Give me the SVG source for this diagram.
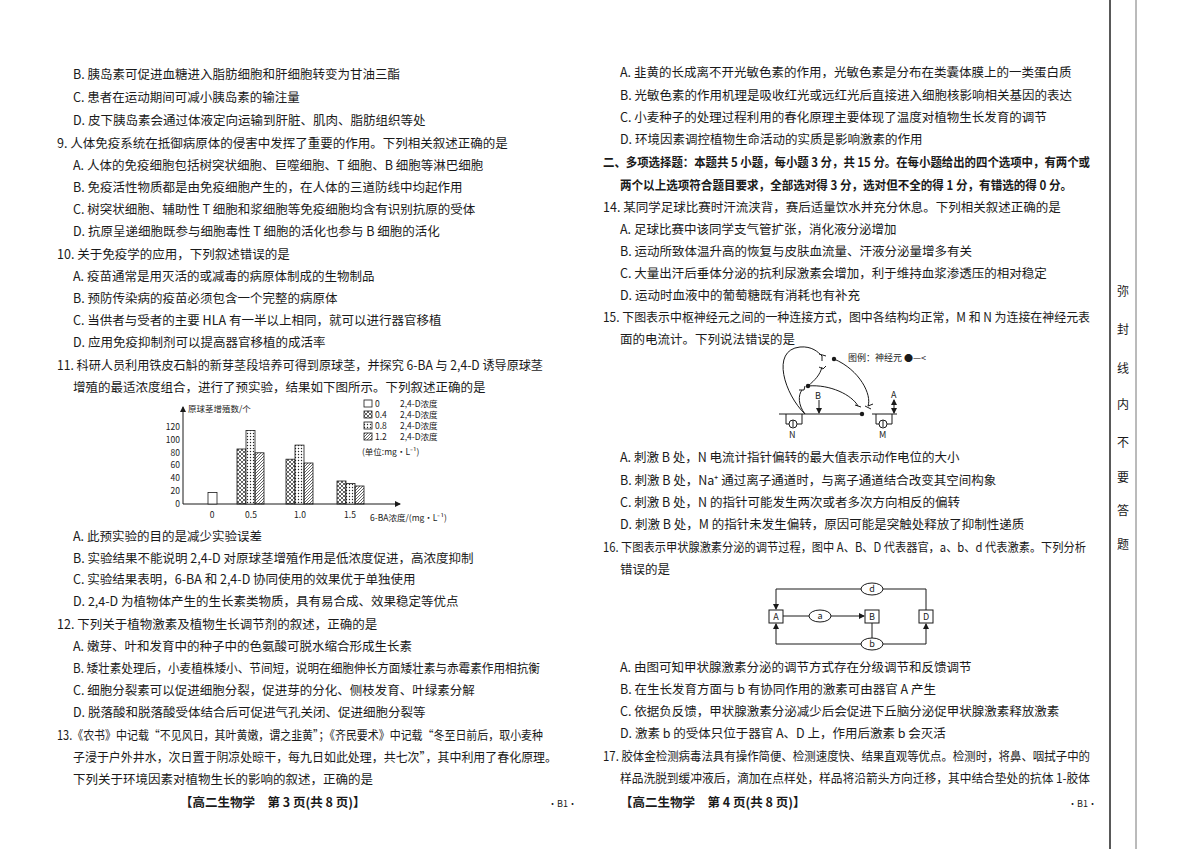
<svg xmlns="http://www.w3.org/2000/svg" width="1200" height="849" viewBox="0 0 1200 849">
<style>
text{font-family:"Noto Sans CJK SC","Liberation Serif",serif;font-size:12.5px;fill:#1a1a1a}
.b{font-weight:bold}
.s{font-size:9px}
text.t{font-size:8.5px}
text.m{font-size:12px}
.ln{stroke:#1a1a1a;stroke-width:1;fill:none}
.bar{stroke:#1a1a1a;stroke-width:0.8}
</style>
<defs>
<marker id="ar" markerWidth="6" markerHeight="6" refX="5" refY="3" orient="auto"><path d="M0,0L6,3L0,6z" fill="#1a1a1a"/></marker>
<pattern id="px" width="4" height="4" patternUnits="userSpaceOnUse"><path d="M0,0L4,4M4,0L0,4" stroke="#222" stroke-width="0.7"/></pattern>
<pattern id="pd" width="3" height="3" patternUnits="userSpaceOnUse"><rect width="3" height="3" fill="#fff"/><circle cx="1.5" cy="1.5" r="0.7" fill="#222"/></pattern>
<pattern id="ph" width="3" height="3" patternUnits="userSpaceOnUse"><path d="M0,3L3,0" stroke="#222" stroke-width="0.7"/></pattern>
</defs>
<rect width="1200" height="849" fill="#fff"/>
<g id="left">
<text x="73" y="79">B. 胰岛素可促进血糖进入脂肪细胞和肝细胞转变为甘油三酯</text>
<text x="73" y="102">C. 患者在运动期间可减小胰岛素的输注量</text>
<text x="73" y="125">D. 皮下胰岛素会通过体液定向运输到肝脏、肌肉、脂肪组织等处</text>
<text x="57" y="148">9. 人体免疫系统在抵御病原体的侵害中发挥了重要的作用。下列相关叙述正确的是</text>
<text x="73" y="170">A. 人体的免疫细胞包括树突状细胞、巨噬细胞、T 细胞、B 细胞等淋巴细胞</text>
<text x="73" y="192">B. 免疫活性物质都是由免疫细胞产生的，在人体的三道防线中均起作用</text>
<text x="73" y="214">C. 树突状细胞、辅助性 T 细胞和浆细胞等免疫细胞均含有识别抗原的受体</text>
<text x="73" y="236">D. 抗原呈递细胞既参与细胞毒性 T 细胞的活化也参与 B 细胞的活化</text>
<text x="57" y="259">10. 关于免疫学的应用，下列叙述错误的是</text>
<text x="73" y="281">A. 疫苗通常是用灭活的或减毒的病原体制成的生物制品</text>
<text x="73" y="303">B. 预防传染病的疫苗必须包含一个完整的病原体</text>
<text x="73" y="325">C. 当供者与受者的主要 HLA 有一半以上相同，就可以进行器官移植</text>
<text x="73" y="347">D. 应用免疫抑制剂可以提高器官移植的成活率</text>
<text x="57" y="370" textLength="486" lengthAdjust="spacingAndGlyphs">11. 科研人员利用铁皮石斛的新芽茎段培养可得到原球茎，并探究 6-BA 与 2,4-D 诱导原球茎</text>
<text x="73" y="392">增殖的最适浓度组合，进行了预实验，结果如下图所示。下列叙述正确的是</text>
<text x="73" y="541">A. 此预实验的目的是减少实验误差</text>
<text x="73" y="563">B. 实验结果不能说明 2,4-D 对原球茎增殖作用是低浓度促进，高浓度抑制</text>
<text x="73" y="584">C. 实验结果表明，6-BA 和 2,4-D 协同使用的效果优于单独使用</text>
<text x="73" y="606">D. 2,4-D 为植物体产生的生长素类物质，具有易合成、效果稳定等优点</text>
<text x="57" y="629">12. 下列关于植物激素及植物生长调节剂的叙述，正确的是</text>
<text x="73" y="651">A. 嫩芽、叶和发育中的种子中的色氨酸可脱水缩合形成生长素</text>
<text x="73" y="673" textLength="467" lengthAdjust="spacingAndGlyphs">B. 矮壮素处理后，小麦植株矮小、节间短，说明在细胞伸长方面矮壮素与赤霉素作用相抗衡</text>
<text x="73" y="695">C. 细胞分裂素可以促进细胞分裂，促进芽的分化、侧枝发育、叶绿素分解</text>
<text x="73" y="717">D. 脱落酸和脱落酸受体结合后可促进气孔关闭、促进细胞分裂等</text>
<text x="57" y="740" textLength="486" lengthAdjust="spacingAndGlyphs">13.《农书》中记载“不见风日，其叶黄嫩，谓之韭黄”；《齐民要术》中记载“冬至日前后，取小麦种</text>
<text x="73" y="762" textLength="484" lengthAdjust="spacingAndGlyphs">子浸于户外井水，次日置于阴凉处晾干，每九日如此处理，共七次”，其中利用了春化原理。</text>
<text x="73" y="784">下列关于环境因素对植物生长的影响的叙述，正确的是</text>
<text x="180" y="807" class="b">【高二生物学　第 3 页(共 8 页)】</text>
<text x="548" y="807" class="s">·B1·</text>
</g>
<g id="chart">
<line class="ln" x1="183" y1="504" x2="183" y2="407" marker-end="url(#ar)"/>
<line class="ln" x1="183" y1="504" x2="400" y2="504" marker-end="url(#ar)"/>
<g text-anchor="end">
<text class="t" x="180" y="507">0</text><text class="t" x="180" y="494">20</text><text class="t" x="180" y="481">40</text><text class="t" x="180" y="468">60</text><text class="t" x="180" y="456">80</text><text class="t" x="180" y="443">100</text><text class="t" x="180" y="430">120</text>
</g>
<text x="188" y="412" class="t">原球茎增殖数/个</text>
<rect class="bar" x="208" y="492.5" width="9" height="11.5" fill="#fff"/>
<rect class="bar" x="237" y="449" width="9" height="55" fill="url(#px)"/>
<rect class="bar" x="246" y="430.4" width="9" height="73.6" fill="url(#pd)"/>
<rect class="bar" x="255" y="452.8" width="9" height="51.2" fill="url(#ph)"/>
<rect class="bar" x="286" y="459.2" width="9" height="44.8" fill="url(#px)"/>
<rect class="bar" x="295" y="445.1" width="9" height="58.9" fill="url(#pd)"/>
<rect class="bar" x="304" y="463" width="9" height="41" fill="url(#ph)"/>
<rect class="bar" x="337" y="481" width="9" height="23" fill="url(#px)"/>
<rect class="bar" x="346" y="483.5" width="9" height="20.5" fill="url(#pd)"/>
<rect class="bar" x="355" y="486" width="9" height="18" fill="url(#ph)"/>
<g text-anchor="middle"><text class="t" x="212" y="518">0</text><text class="t" x="251" y="518">0.5</text><text class="t" x="300" y="518">1.0</text><text class="t" x="350" y="518">1.5</text></g>
<text x="370" y="521" class="t">6-BA浓度/(mg·L⁻¹)</text>
<rect class="bar" x="364" y="400" width="8" height="7" fill="#fff"/>
<rect class="bar" x="364" y="411" width="8" height="7" fill="url(#px)"/>
<rect class="bar" x="364" y="422" width="8" height="7" fill="url(#pd)"/>
<rect class="bar" x="364" y="433" width="8" height="7" fill="url(#ph)"/>
<text class="t" x="375" y="407">0</text><text class="t" x="375" y="418">0.4</text><text class="t" x="375" y="429">0.8</text><text class="t" x="375" y="440">1.2</text>
<text class="t" x="400" y="407">2,4-D浓度</text><text class="t" x="400" y="418">2,4-D浓度</text><text class="t" x="400" y="429">2,4-D浓度</text><text class="t" x="400" y="440">2,4-D浓度</text>
<text class="t" x="362" y="455">(单位:mg·L⁻¹)</text>
</g>
<g id="right">
<text x="620" y="77">A. 韭黄的长成离不开光敏色素的作用，光敏色素是分布在类囊体膜上的一类蛋白质</text>
<text x="620" y="100">B. 光敏色素的作用机理是吸收红光或远红光后直接进入细胞核影响相关基因的表达</text>
<text x="620" y="122">C. 小麦种子的处理过程利用的春化原理主要体现了温度对植物生长发育的调节</text>
<text x="620" y="144">D. 环境因素调控植物生命活动的实质是影响激素的作用</text>
<text x="603" y="167" class="b" textLength="487" lengthAdjust="spacingAndGlyphs">二、多项选择题：本题共 5 小题，每小题 3 分，共 15 分。在每小题给出的四个选项中，有两个或</text>
<text x="620" y="190" class="b" textLength="452" lengthAdjust="spacingAndGlyphs">两个以上选项符合题目要求，全部选对得 3 分，选对但不全的得 1 分，有错选的得 0 分。</text>
<text x="603" y="212">14. 某同学足球比赛时汗流浃背，赛后适量饮水并充分休息。下列相关叙述正确的是</text>
<text x="620" y="234">A. 足球比赛中该同学支气管扩张，消化液分泌增加</text>
<text x="620" y="256">B. 运动所致体温升高的恢复与皮肤血流量、汗液分泌量增多有关</text>
<text x="620" y="278">C. 大量出汗后垂体分泌的抗利尿激素会增加，利于维持血浆渗透压的相对稳定</text>
<text x="620" y="300">D. 运动时血液中的葡萄糖既有消耗也有补充</text>
<text x="603" y="322" textLength="487" lengthAdjust="spacingAndGlyphs">15. 下图表示中枢神经元之间的一种连接方式，图中各结构均正常，M 和 N 为连接在神经元表</text>
<text x="620" y="344">面的电流计。下列说法错误的是</text>
<text x="620" y="462">A. 刺激 B 处，N 电流计指针偏转的最大值表示动作电位的大小</text>
<text x="620" y="485">B. 刺激 B 处，Na⁺ 通过离子通道时，与离子通道结合改变其空间构象</text>
<text x="620" y="507">C. 刺激 B 处，N 的指针可能发生两次或者多次方向相反的偏转</text>
<text x="620" y="529">D. 刺激 B 处，M 的指针未发生偏转，原因可能是突触处释放了抑制性递质</text>
<text x="603" y="552" textLength="483" lengthAdjust="spacingAndGlyphs">16. 下图表示甲状腺激素分泌的调节过程，图中 A、B、D 代表器官，a、b、d 代表激素。下列分析</text>
<text x="620" y="574">错误的是</text>
<text x="620" y="672">A. 由图可知甲状腺激素分泌的调节方式存在分级调节和反馈调节</text>
<text x="620" y="694">B. 在生长发育方面与 b 有协同作用的激素可由器官 A 产生</text>
<text x="620" y="716">C. 依据负反馈，甲状腺激素分泌减少后会促进下丘脑分泌促甲状腺激素释放激素</text>
<text x="620" y="738">D. 激素 b 的受体只位于器官 A、D 上，作用后激素 b 会灭活</text>
<text x="603" y="761" textLength="487" lengthAdjust="spacingAndGlyphs">17. 胶体金检测病毒法具有操作简便、检测速度快、结果直观等优点。检测时，将鼻、咽拭子中的</text>
<text x="620" y="783" textLength="470" lengthAdjust="spacingAndGlyphs">样品洗脱到缓冲液后，滴加在点样处，样品将沿箭头方向迁移，其中结合垫处的抗体 1-胶体</text>
<text x="620" y="807" class="b">【高二生物学　第 4 页(共 8 页)】</text>
<text x="1068" y="807" class="s">·B1·</text>
</g>
<g id="neuron">
<line class="ln" x1="779" y1="414" x2="862" y2="414"/>
<line class="ln" x1="872" y1="414" x2="897" y2="414"/>
<circle cx="862" cy="414" r="2.2" fill="#1a1a1a"/>
<path class="ln" d="M805,414C785,395 770,350 800,347C812,346 818,352 822,356"/>
<path class="ln" d="M819,354L826,356M822,356L822,361"/>
<circle cx="834" cy="359" r="2.2" fill="#1a1a1a"/>
<path class="ln" d="M834,359C860,370 872,395 868,406M865,406L871,409M868,406L873,404"/>
<circle cx="808" cy="386" r="2.2" fill="#1a1a1a"/>
<path class="ln" d="M808,386C830,384 852,395 858,406M855,405L861,407"/>
<path class="ln" d="M808,386C815,380 820,375 822,367M819,367L823,369L826,366"/>
<path class="ln" d="M805,414C798,405 798,395 802,390M799,390L804,390L805,386"/>
<line class="ln" x1="819" y1="400" x2="819" y2="413" marker-end="url(#ar)"/>
<text x="815" y="399" class="s">B</text>
<line class="ln" x1="894" y1="402" x2="894" y2="413" marker-end="url(#ar)"/>
<line class="ln" x1="894" y1="405" x2="894" y2="400" marker-end="url(#ar)"/>
<text x="891" y="398" class="s">A</text>
<path class="ln" d="M786,414V424H789M797,424H802V414"/>
<circle cx="793" cy="424" r="4" class="ln"/><line class="ln" x1="793" y1="427" x2="793" y2="420"/>
<text x="789" y="438" class="s">N</text>
<path class="ln" d="M876,414V424H879M887,424H892V414"/>
<circle cx="883" cy="424" r="4" class="ln"/><line class="ln" x1="883" y1="427" x2="883" y2="420"/>
<text x="879" y="438" class="s">M</text>
<text x="848" y="361" class="s">图例：神经元 ●—&lt;</text>
</g>
<g id="connectors">
<path class="ln" d="M926,610V589H883M861,589H776V609" marker-end="url(#ar)"/>
<path class="ln" d="M861,644H776V624" marker-end="url(#ar)"/>
<path class="ln" d="M883,644H926V624" marker-end="url(#ar)"/>
<line class="ln" x1="872" y1="623" x2="872" y2="638"/>
<line class="ln" x1="783" y1="616" x2="809" y2="616"/>
<line class="ln" x1="831" y1="616" x2="864" y2="616" marker-end="url(#ar)"/>
</g>
<g id="nodeA"><rect class="ln" x="769" y="610" width="14" height="13" fill="#fff"/><text x="776" y="620" class="s" text-anchor="middle">A</text></g>
<g id="nodeB"><rect class="ln" x="865" y="610" width="14" height="13" fill="#fff"/><text x="872" y="620" class="s" text-anchor="middle">B</text></g>
<g id="nodeD"><rect class="ln" x="919" y="610" width="14" height="13" fill="#fff"/><text x="926" y="620" class="s" text-anchor="middle">D</text></g>
<g id="nodea"><ellipse class="ln" cx="820" cy="616" rx="11" ry="6" fill="#fff"/><text x="820" y="619" class="s" text-anchor="middle">a</text></g>
<g id="nodeb"><ellipse class="ln" cx="872" cy="644" rx="11" ry="6" fill="#fff"/><text x="872" y="647" class="s" text-anchor="middle">b</text></g>
<g id="noded"><ellipse class="ln" cx="872" cy="589" rx="11" ry="6" fill="#fff"/><text x="872" y="592" class="s" text-anchor="middle">d</text></g>
<g id="margin">
<line x1="1110" y1="0" x2="1110" y2="849" stroke="#222" stroke-width="1.5"/>
<line x1="1136" y1="0" x2="1136" y2="849" stroke="#777" stroke-width="1"/>
<g text-anchor="middle">
<text class="m" x="1123" y="296">弥</text><text class="m" x="1123" y="334">封</text><text class="m" x="1123" y="373">线</text><text class="m" x="1123" y="409">内</text><text class="m" x="1123" y="447">不</text><text class="m" x="1123" y="482">要</text><text class="m" x="1123" y="515">答</text><text class="m" x="1123" y="549">题</text>
</g>
</g>
</svg>
